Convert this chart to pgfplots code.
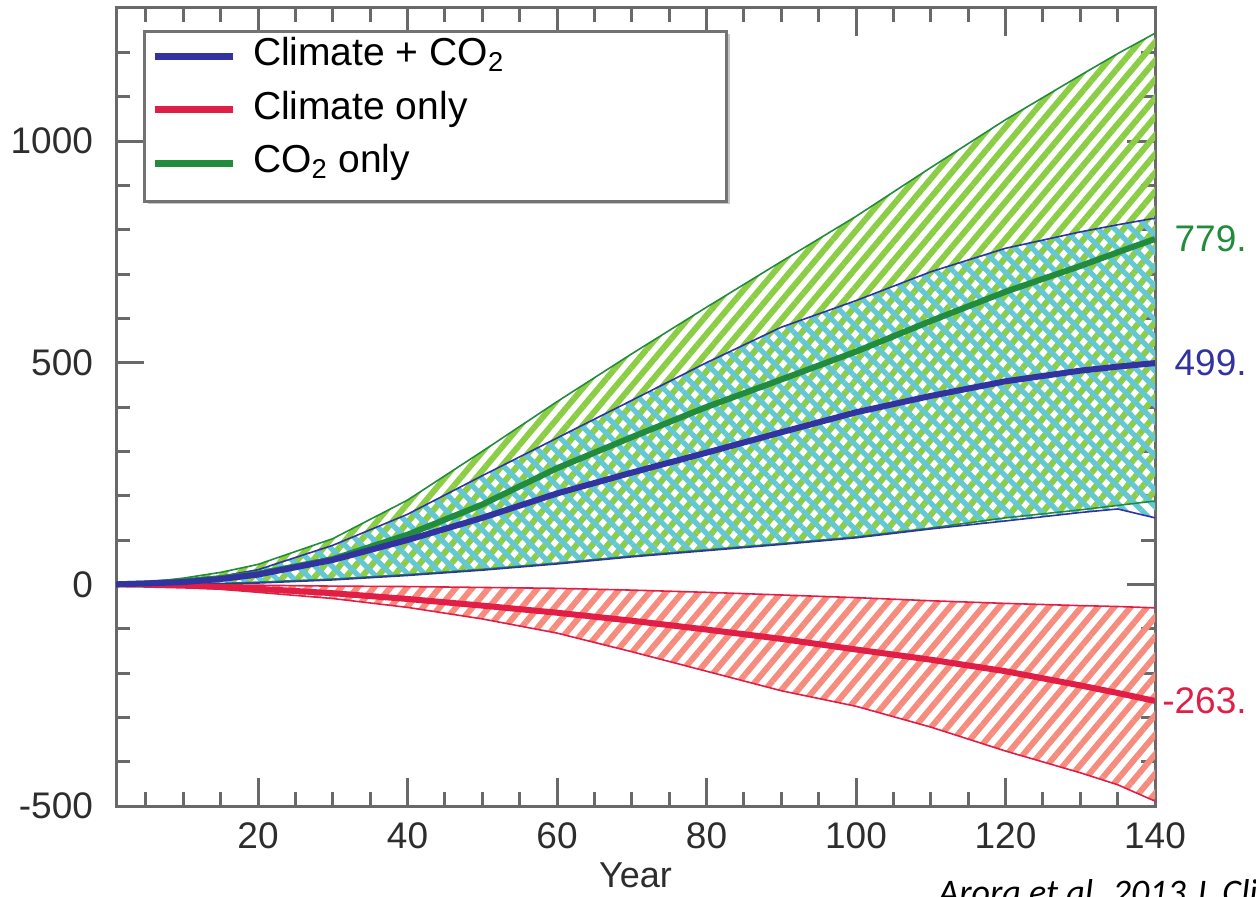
\documentclass[border=0pt]{standalone}
\usepackage{fontspec}
\setmainfont{Liberation Sans}
\newfontfamily\carlito{Carlito}
\usepackage{pgfplots}
\pgfplotsset{compat=1.18}
\usepackage{pgfplotstable}
\usepgfplotslibrary{fillbetween}
\usetikzlibrary{patterns.meta}

\definecolor{axisgray}{RGB}{105,105,105}
\definecolor{labelgray}{RGB}{45,45,45}
\definecolor{legendgray}{RGB}{115,115,115}
\definecolor{bluel}{RGB}{50,50,160}
\definecolor{greenl}{RGB}{35,140,60}
\definecolor{redl}{RGB}{225,30,70}
\definecolor{hatchgreen}{RGB}{140,205,70}
\definecolor{hatchcyan}{RGB}{100,200,212}
\definecolor{hatchred}{RGB}{245,140,125}

\pgfplotstableread{
x   gup  bup  gmean bmean glow blow rup  rmean rlow
1   0    0    0     0     0    0    0    0     0
5   4    3    2     2     0    0    0    -1    -2
10  14   8    7     5     1    0    0    -3    -6
15  27   18   14    12    2    1    -1   -6    -11
20  45   33   24    22    5    3    -2   -10   -18
30  103  88   57    55    12   10   -4   -20   -32
40  190  158  112   100   22   20   -5   -33   -52
50  300  245  180   150   34   32   -7   -48   -78
60  412  330  262   205   48   46   -9   -64   -110
70  520  415  332   252   64   62   -13  -82   -152
80  625  500  400   297   78   76   -18  -102  -196
90  728  580  462   343   92   90   -24  -123  -240
100 830  640  525   388   107  105  -30  -147  -275
110 940  705  594   425   127  125  -37  -170  -322
120 1048 758  660   458   150  143  -43  -196  -376
130 1148 795  718   482   168  162  -48  -228  -425
135 1197 811  749   491   178  170  -50  -245  -452
140 1243 826  779   499   188  150  -53  -263  -489
}\data

\begin{document}
\begin{tikzpicture}[x=1pt,y=1pt]
\begin{axis}[
  at={(58pt,45pt)}, anchor=south west,
  scale only axis, width=519.5pt, height=399pt,
  xmin=1, xmax=140, ymin=-500, ymax=1300,
  set layers, clip mode=individual,
  xtick={20,40,60,80,100,120,140},
  xticklabels={20,40,60,80,100,120,140},
  ytick={-500,0,500,1000},
  yticklabels={-500,0,500,1000},
  minor xtick={5,10,15,25,30,35,45,50,55,65,70,75,85,90,95,105,110,115,125,130,135},
  minor ytick={-400,-300,-200,-100,100,200,300,400,600,700,800,900,1100,1200},
  major tick length=14pt, minor tick length=7pt,
  axis line style={draw=axisgray, line width=1.5pt},
  tick style={draw=axisgray, line width=1.5pt},
  ticklabel style={font=\fontsize{18.5}{21}\selectfont, text=labelgray},
  yticklabel style={xshift=-8pt},
  xticklabel style={yshift=-5pt},
  xlabel={Year},
  xlabel style={at={(axis description cs:0.5,0)}, anchor=north, inner sep=0pt,
    yshift=-28pt, font=\fontsize{18}{20}\selectfont, text=labelgray},
  legend style={draw=none, fill=none, at={(axis description cs:0.0337,0.963)},
    anchor=north west, inner sep=0pt, outer sep=0pt, row sep=8.25pt,
    font=\fontsize{19.5}{22}\selectfont,
    nodes={inner sep=0pt, text height=14pt, text depth=4.5pt}},
  legend cell align=left,
  legend image code/.code={\draw[#1] (0pt,0pt) -- (39pt,0pt); \path (47.5pt,0pt);},
]
% boundary curves
\addplot[forget plot, name path=gup, draw=greenl, line width=0.8pt] table[x=x,y=gup]{\data};
\addplot[forget plot, name path=glow, draw=greenl, line width=0.8pt] table[x=x,y=glow]{\data};
\addplot[forget plot, name path=bup, draw=bluel, line width=0.8pt] table[x=x,y=bup]{\data};
\addplot[forget plot, name path=blow, draw=bluel, line width=0.8pt] table[x=x,y=blow]{\data};
\addplot[forget plot, name path=rup, draw=redl, line width=0.8pt] table[x=x,y=rup]{\data};
\addplot[forget plot, name path=rlow, draw=redl, line width=0.8pt] table[x=x,y=rlow]{\data};
% hatched bands
\addplot[forget plot, draw=none, pattern={Lines[angle=50,distance=6pt,line width=3pt]}, pattern color=hatchgreen] fill between[of=gup and glow];
\addplot[forget plot, draw=none, pattern={Lines[angle=-45,distance=6pt,line width=2.6pt]}, pattern color=hatchcyan] fill between[of=bup and blow];
\addplot[forget plot, draw=none, pattern={Lines[angle=50,distance=6.3pt,line width=3pt]}, pattern color=hatchred] fill between[of=rup and rlow];
% mean curves
\addplot[forget plot, draw=redl, line width=3pt] table[x=x,y=rmean]{\data};
\addplot[forget plot, draw=greenl, line width=3pt] table[x=x,y=gmean]{\data};
\addplot[forget plot, draw=bluel, line width=3pt] table[x=x,y=bmean]{\data};
% end values
\node[anchor=east, inner sep=0pt, xshift=46pt, text=greenl, font=\fontsize{18.5}{21}\selectfont] at (axis cs:140,779) {779.};
\node[anchor=east, inner sep=0pt, xshift=46pt, text=bluel, font=\fontsize{18.5}{21}\selectfont] at (axis cs:140,499) {499.};
\node[anchor=east, inner sep=0pt, xshift=46pt, text=redl, font=\fontsize{18.5}{21}\selectfont] at (axis cs:140,-263) {-263.};
% legend frame
\fill[gray!45] ([xshift=1.5pt,yshift=-1.5pt]rel axis cs:0.0279,0.971) rectangle ([xshift=1.5pt,yshift=-1.5pt]rel axis cs:0.588,0.758);
\draw[legendgray, line width=1.5pt, fill=white] (rel axis cs:0.0279,0.971) rectangle (rel axis cs:0.588,0.758);
\addlegendimage{draw=bluel, line width=3.5pt}
\addlegendentry{Climate + CO\textsubscript{2}}
\addlegendimage{draw=redl, line width=3.5pt}
\addlegendentry{Climate only}
\addlegendimage{draw=greenl, line width=3.5pt}
\addlegendentry{CO\textsubscript{2} only}
\end{axis}
\node[anchor=base west, inner sep=0pt, font=\carlito\itshape\fontsize{18}{20}\selectfont, text=black] at (469,-4) {Arora et al. 2013 J. Climate};
\pgfresetboundingbox
\path[use as bounding box] (0,0) rectangle (628,448);
\end{tikzpicture}
\end{document}
